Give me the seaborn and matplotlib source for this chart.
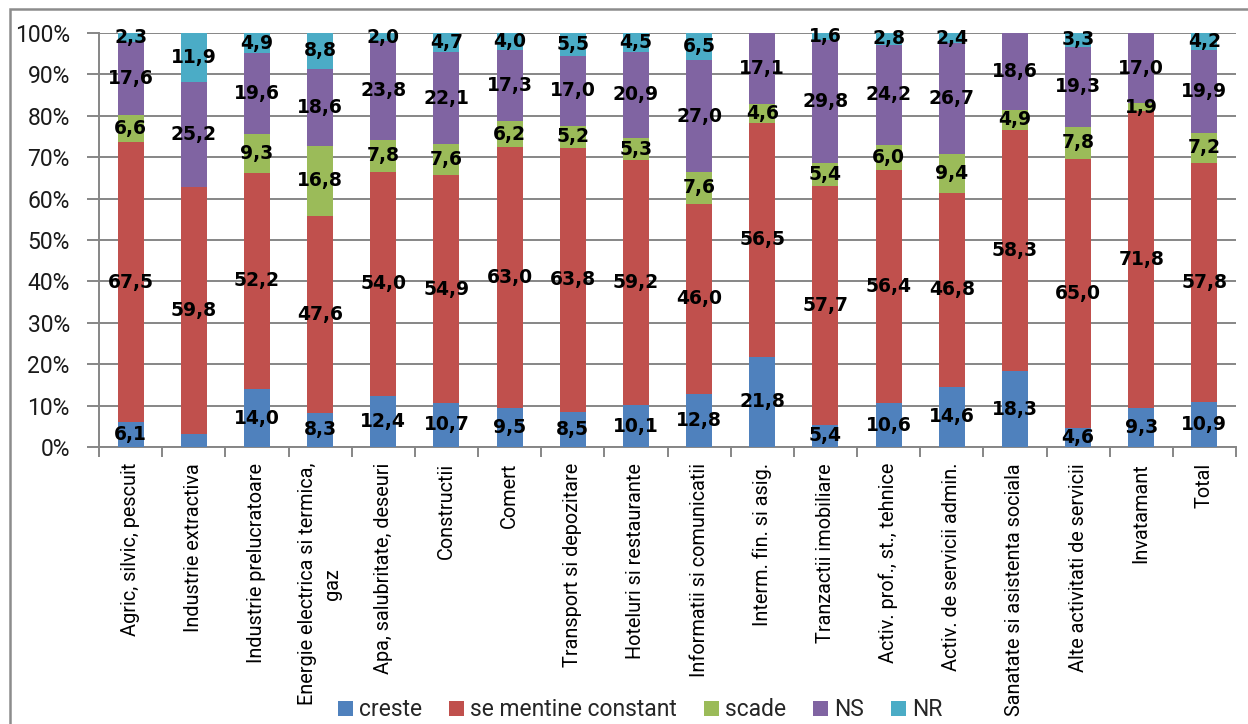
import numpy as np
import matplotlib
matplotlib.use("Agg")
import matplotlib.pyplot as plt
import seaborn as sns
from matplotlib.patches import Rectangle, Patch

# Sectors of activity
categories = [
    "Agric, silvic, pescuit",
    "Industrie extractiva",
    "Industrie prelucratoare",
    "Energie electrica si termica,\ngaz",
    "Apa, salubritate, deseuri",
    "Constructii",
    "Comert",
    "Transport si depozitare",
    "Hoteluri si restaurante",
    "Informatii si comunicatii",
    "Interm. fin. si asig.",
    "Tranzactii imobiliare",
    "Activ. prof., st., tehnice",
    "Activ. de servicii admin.",
    "Sanatate si asistenta sociala",
    "Alte activitati de servicii",
    "Invatamant",
    "Total",
]

# Shares of answers (%)
creste = [6.1, 3.1, 14.0, 8.3, 12.4, 10.7, 9.5, 8.5, 10.1, 12.8, 21.8, 5.4, 10.6, 14.6, 18.3, 4.6, 9.3, 10.9]
constant = [67.5, 59.8, 52.2, 47.6, 54.0, 54.9, 63.0, 63.8, 59.2, 46.0, 56.5, 57.7, 56.4, 46.8, 58.3, 65.0, 71.8, 57.8]
scade = [6.6, 0.0, 9.3, 16.8, 7.8, 7.6, 6.2, 5.2, 5.3, 7.6, 4.6, 5.4, 6.0, 9.4, 4.9, 7.8, 1.9, 7.2]
ns = [17.6, 25.2, 19.6, 18.6, 23.8, 22.1, 17.3, 17.0, 20.9, 27.0, 17.1, 29.8, 24.2, 26.7, 18.6, 19.3, 17.0, 19.9]
nr = [2.3, 11.9, 4.9, 8.8, 2.0, 4.7, 4.0, 5.5, 4.5, 6.5, 0.0, 1.6, 2.8, 2.4, 0.0, 3.3, 0.0, 4.2]

series_names = ["creste", "se mentine constant", "scade", "NS", "NR"]
series_values = [creste, constant, scade, ns, nr]
series_colors = ["#4F81BD", "#C0504D", "#9BBB59", "#8064A2", "#4BACC6"]

# segments whose value label is left out
unlabeled = {("creste", "Industrie extractiva")}

y_ticks = list(range(0, 101, 10))
y_tick_labels = [f"{t}%" for t in y_ticks]

sns.set_theme(style="white")
plt.rcParams["font.family"] = ["Roboto", "DejaVu Sans"]

W, H = 1248, 724
fig = plt.figure(figsize=(W / 100, H / 100), dpi=100)
ax_left, ax_right, ax_top, ax_bottom = 99, 1236, 33, 447
ax = fig.add_axes([ax_left / W, 1 - ax_bottom / H,
                   (ax_right - ax_left) / W, (ax_bottom - ax_top) / H])

grid_color = "#868686"
bottom = np.zeros(len(categories))
for name, vals, col in zip(series_names, series_values, series_colors):
    vals = np.asarray(vals, dtype=float)
    sns.barplot(x=categories, y=vals, bottom=bottom, color=col, width=0.41,
                saturation=1, linewidth=0, errorbar=None, order=categories,
                ax=ax, zorder=3)
    for i, (v, b) in enumerate(zip(vals, bottom)):
        if v > 0 and (name, categories[i]) not in unlabeled:
            ax.text(i, b + v / 2, f"{v:.1f}".replace(".", ","),
                    ha="center", va="center", fontsize=13.5,
                    fontweight="bold", family="DejaVu Sans", color="black",
                    zorder=5)
    bottom = bottom + vals

ax.set_xlim(-0.5, len(categories) - 0.5)
ax.set_ylim(0, 100)
ax.set_xlabel("")
ax.set_ylabel("")

ax.set_yticks(y_ticks)
ax.set_yticklabels(y_tick_labels, fontsize=16.5, color="#1a1a1a")
ax.yaxis.grid(True, color=grid_color, linewidth=1.4)
ax.xaxis.grid(False)
ax.set_axisbelow(True)

ax.set_xticks(range(len(categories)))
ax.set_xticklabels(categories, rotation=90, fontsize=14.3, color="black",
                   ha="center", va="top", multialignment="center",
                   linespacing=1.4)
ax.set_xticks(np.arange(-0.5, len(categories)), minor=True)
ax.tick_params(axis="x", which="major", length=0, pad=11.5)
ax.tick_params(axis="x", which="minor", length=7, width=1.4, color=grid_color,
               direction="out", bottom=True)
ax.tick_params(axis="y", which="major", length=9, width=1.4, color=grid_color,
               direction="out", left=True, pad=12)

for side in ("top", "right"):
    ax.spines[side].set_visible(False)
for side in ("left", "bottom"):
    ax.spines[side].set_color(grid_color)
    ax.spines[side].set_linewidth(1.4)

handles = [Patch(facecolor=c, edgecolor="none", label=n)
           for n, c in zip(series_names, series_colors)]
fig.legend(handles=handles, loc="center", bbox_to_anchor=(640 / W, 1 - 710 / H),
           ncol=5, frameon=False, fontsize=16.5, handlelength=0.65,
           handleheight=0.65, handletextpad=0.25, columnspacing=1.2,
           borderpad=0, borderaxespad=0)

# outer chart frame
fig.add_artist(Rectangle((10 / W, -0.1), 1.2, (H - 9) / H + 0.1,
                         transform=fig.transFigure, fill=False,
                         edgecolor="#8C8C8C", linewidth=1.8))

fig.savefig("out.png", dpi=100)
